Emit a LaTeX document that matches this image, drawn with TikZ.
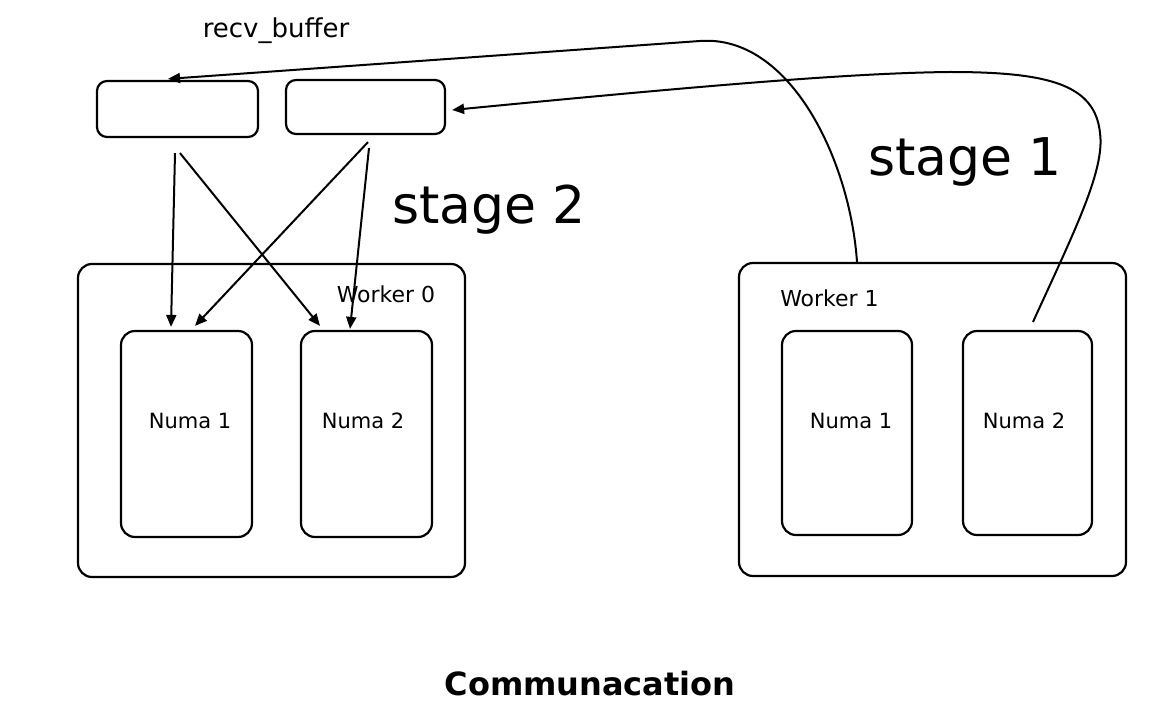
\documentclass[tikz,border=0pt]{standalone}
\usepackage{fontspec}
\setmainfont{DejaVu Sans}
\usetikzlibrary{arrows.meta,calc}
\begin{document}
\begin{tikzpicture}[x=1pt,y=-1pt,
  box/.style={draw,line width=2.2pt,rounded corners=14pt,inner sep=0pt},
  buf/.style={draw,line width=2.2pt,rounded corners=10pt,inner sep=0pt},
  lbl/.style={font=\fontsize{21}{24}\selectfont,inner sep=0pt},
  big/.style={font=\fontsize{52}{58}\selectfont,inner sep=0pt},
  arr/.style={line width=2pt,-{Triangle[length=12pt,width=10pt]}}]
\useasboundingbox (0,0) rectangle (1162,711);
% receive buffers
\node[buf,minimum width=161pt,minimum height=56pt] (bufA) at (177.5,109) {};
\node[buf,minimum width=159pt,minimum height=54pt] (bufB) at (365.5,107) {};
\node[lbl,font=\fontsize{26}{30}\selectfont] (rb) at (276,31) {recv\_buffer};
% workers
\node[box,minimum width=387pt,minimum height=313pt] (w0) at (271.5,420.5) {};
\node[box,minimum width=387pt,minimum height=313pt] (w1) at (932.5,419.5) {};
\node[lbl,font=\fontsize{22}{26}\selectfont] (w0l) at (386,294) {Worker 0};
\node[lbl,font=\fontsize{22}{26}\selectfont] (w1l) at (829.5,298) {Worker 1};
% numa boxes
\node[box,minimum width=131pt,minimum height=206pt] (n01) at (186.5,434) {};
\node[box,minimum width=131pt,minimum height=206pt] (n02) at (366.5,434) {};
\node[box,minimum width=130pt,minimum height=204pt] (n11) at (847,433) {};
\node[box,minimum width=129pt,minimum height=204pt] (n12) at (1027.5,433) {};
\node[lbl] (n01l) at (190,421) {Numa 1};
\node[lbl] (n02l) at (363,421) {Numa 2};
\node[lbl] (n11l) at (851,421) {Numa 1};
\node[lbl] (n12l) at (1024,421) {Numa 2};
% stage labels
\node[big] (s2) at (489,210) {stage 2};
\node[big] (s1) at (965,162) {stage 1};
\node[font=\fontsize{32}{38}\selectfont\bfseries,inner sep=0pt] (title) at (590,684) {Communacation};
% connector end points
\coordinate (a1) at ($(bufA.south)+(-2.5,15)$);
\coordinate (a2) at ($(bufA.south)+(2.5,15)$);
\coordinate (b1) at ($(bufB.south)+(2.5,7)$);
\coordinate (b2) at ($(bufB.south)+(3.5,13)$);
\coordinate (e1) at ($(n01.north)+(-15.5,-3)$);
\coordinate (e2) at ($(n02.north)+(-46.5,-4)$);
\coordinate (e3) at ($(n01.north)+(8.5,-4)$);
\coordinate (e4) at ($(n02.north)+(-16.5,-1)$);
\coordinate (c1) at ($(w1.north)+(-75.5,0)$);
\coordinate (c2) at ($(n12.north)+(5.5,-8)$);
\coordinate (t1) at ($(bufA.north)+(-9.5,-1)$);
\coordinate (t2) at ($(bufB.east)+(6,3)$);
% stage 2 arrows
\draw[arr] (a1) -- (e1);
\draw[arr] (a2) -- (e2);
\draw[arr] (b1) -- (e3);
\draw[arr] (b2) -- (e4);
% stage 1 curves
\draw[arr] (c1) .. controls (850,160) and (790,34.4) .. (700,41) -- (t1);
\draw[arr] (c2) .. controls (1075,230) and (1105,170) .. (1100,133)
  .. controls (1095,85) and (1050,72) .. (950,72)
  .. controls (850,73) and (700,86) .. (t2);
\end{tikzpicture}
\end{document}
